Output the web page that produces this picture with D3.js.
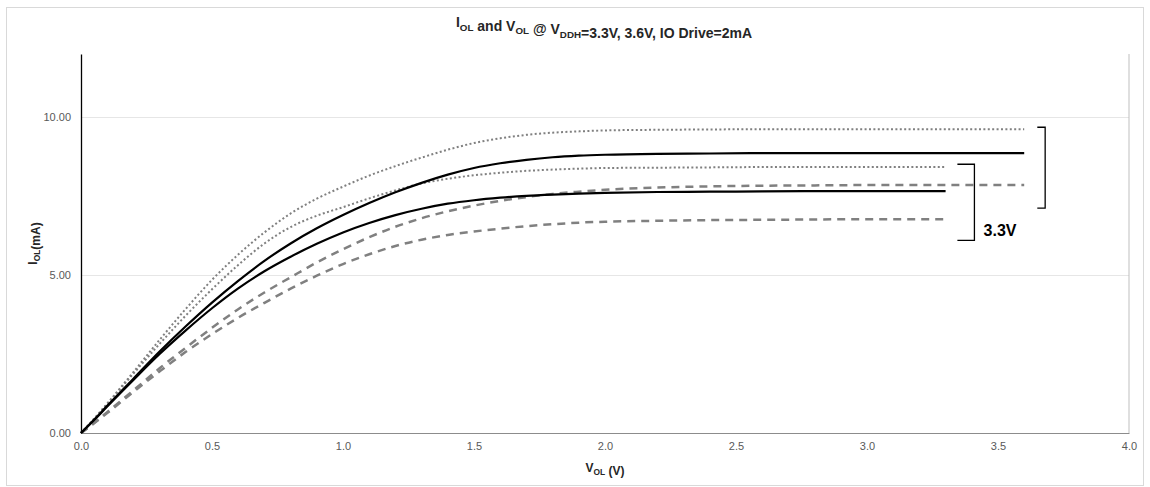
<!DOCTYPE html>
<html lang="en">
<head>
<meta charset="UTF-8">
<title>IOL and VOL</title>
<script src="https://cdn.jsdelivr.net/npm/d3@7"></script>
<style>
    body { margin: 0; background: #fff; }
    svg { font-family: "Liberation Sans", Arial, sans-serif; }
</style>
</head>
<body>
<svg id="chart" width="1150" height="487"></svg>
<script>
    // voltage grid (V) shared by the curves
    const vol = [0, 0.05, 0.1, 0.2, 0.3, 0.4, 0.5, 0.6, 0.7, 0.8, 0.9, 1.0, 1.1, 1.2, 1.3, 1.4, 1.5,
                 1.6, 1.7, 1.8, 1.9, 2.0, 2.2, 2.4, 2.6, 2.8, 3.0, 3.3, 3.6];
    // current (mA) for each curve
    const dotHigh  = [0, 0.45, 0.93, 1.93, 2.95, 3.93, 4.85, 5.65, 6.35, 6.95, 7.42, 7.8, 8.15, 8.45, 8.72, 8.97, 9.18,
                      9.33, 9.44, 9.51, 9.55, 9.58, 9.6, 9.61, 9.62, 9.62, 9.62, 9.62, 9.62];
    const dotLow   = [0, 0.45, 0.92, 1.88, 2.82, 3.72, 4.55, 5.32, 6.0, 6.52, 6.88, 7.15, 7.43, 7.68, 7.9, 8.05, 8.16,
                      8.24, 8.3, 8.34, 8.37, 8.39, 8.4, 8.41, 8.42, 8.42, 8.42, 8.42];
    const solHigh  = [0, 0.42, 0.86, 1.72, 2.58, 3.38, 4.13, 4.82, 5.45, 6.0, 6.48, 6.9, 7.28, 7.62, 7.92, 8.18, 8.39,
                      8.54, 8.65, 8.73, 8.78, 8.81, 8.84, 8.85, 8.86, 8.86, 8.86, 8.86, 8.86];
    const solLow   = [0, 0.41, 0.84, 1.68, 2.5, 3.25, 3.95, 4.58, 5.12, 5.58, 5.99, 6.35, 6.65, 6.9, 7.1, 7.26, 7.37,
                      7.45, 7.51, 7.55, 7.58, 7.6, 7.63, 7.64, 7.65, 7.66, 7.66, 7.66];
    const dashHigh = [0, 0.32, 0.66, 1.35, 2.05, 2.7, 3.33, 3.92, 4.45, 4.93, 5.4, 5.82, 6.2, 6.53, 6.8, 7.02, 7.2,
                      7.35, 7.47, 7.57, 7.64, 7.7, 7.77, 7.81, 7.83, 7.84, 7.85, 7.85, 7.85];
    const dashLow  = [0, 0.31, 0.63, 1.3, 1.95, 2.57, 3.13, 3.65, 4.12, 4.57, 4.98, 5.35, 5.66, 5.92, 6.12, 6.27, 6.38,
                      6.47, 6.55, 6.61, 6.66, 6.69, 6.72, 6.74, 6.75, 6.76, 6.77, 6.77];

    const xTicks = [0, 0.5, 1, 1.5, 2, 2.5, 3, 3.5, 4];
    const yTicks = [0, 5, 10];

    // brackets: [V of spine, V of tick ends, I top, I bottom]
    const bracket36 = [3.68, 3.65, 9.68, 7.12];
    const bracket33 = [3.41, 3.345, 8.51, 6.1];
    const bracketLabel = {v: 3.445, i: 6.25, text: "3.3V"};

    const series = [
        {y: dotHigh,  cls: "dot"},
        {y: dotLow,   cls: "dot"},
        {y: dashHigh, cls: "dash"},
        {y: dashLow,  cls: "dash"},
        {y: solHigh,  cls: "solid"},
        {y: solLow,   cls: "solid"}
    ];

    const svg = d3.select("#chart");
    const margin = {left: 81, right: 21, top: 54, bottom: 54};
    const W = 1150, H = 487;

    const x = d3.scaleLinear().domain([0, 4]).range([margin.left, W - margin.right]);
    const y = d3.scaleLinear().domain([0, 12]).range([H - margin.bottom, margin.top]);

    // chart border
    svg.append("rect").attr("x", 6.5).attr("y", 7.5).attr("width", 1137).attr("height", 478)
        .attr("fill", "none").attr("stroke", "#d9d9d9");

    // gridlines
    svg.append("g").selectAll("line").data(yTicks.filter(d => d > 0)).join("line")
        .attr("x1", x(0)).attr("x2", x(4))
        .attr("y1", d => Math.round(y(d)) + 0.5).attr("y2", d => Math.round(y(d)) + 0.5)
        .attr("stroke", "#e6e6e6");

    // axes
    const xAxis = svg.append("g").attr("transform", `translate(0,${y(0)})`)
        .call(d3.axisBottom(x).tickValues(xTicks).tickFormat(d3.format(".1f")).tickSize(0).tickPadding(9));
    xAxis.select(".domain").attr("stroke", "#8c8c8c");
    const yAxis = svg.append("g").attr("transform", `translate(${x(0)},0)`)
        .call(d3.axisLeft(y).tickValues(yTicks).tickFormat(d3.format(".2f")).tickSize(0).tickPadding(10));
    yAxis.select(".domain").attr("stroke", "#000").attr("stroke-width", 1.3);
    svg.selectAll(".tick text").attr("font-size", 11).attr("fill", "#595959")
        .attr("font-family", "'Liberation Sans', Arial, sans-serif");
    // right edge line
    svg.append("line").attr("x1", x(4)).attr("x2", x(4)).attr("y1", y(0)).attr("y2", y(12))
        .attr("stroke", "#bfbfbf");

    // curves
    const line = d3.line()
        .x((d, i) => x(vol[i]))
        .y(d => y(d))
        .curve(d3.curveMonotoneX);
    const styles = {
        dot:   {stroke: "#808080", width: 2, dash: "2,2.4"},
        dash:  {stroke: "#808080", width: 2.5, dash: "8,6"},
        solid: {stroke: "#000", width: 2.2, dash: null}
    };
    svg.append("g").selectAll("path").data(series).join("path")
        .attr("d", d => line(d.y))
        .attr("fill", "none")
        .attr("stroke", d => styles[d.cls].stroke)
        .attr("stroke-width", d => styles[d.cls].width)
        .attr("stroke-dasharray", d => styles[d.cls].dash);

    // brackets
    function bracket(b) {
        const p = d3.path();
        p.moveTo(x(b[1]), y(b[2]));
        p.lineTo(x(b[0]), y(b[2]));
        p.lineTo(x(b[0]), y(b[3]));
        p.lineTo(x(b[1]), y(b[3]));
        svg.append("path").attr("d", p.toString()).attr("fill", "none")
            .attr("stroke", "#000").attr("stroke-width", 1.3);
    }
    bracket(bracket36);
    bracket(bracket33);
    svg.append("text").attr("x", x(bracketLabel.v)).attr("y", y(bracketLabel.i))
        .attr("font-size", 16).attr("font-weight", "bold").text(bracketLabel.text);

    // text with subscripts
    function richText(sel, parts, size) {
        parts.forEach(p => {
            if (p.sub) {
                sel.append("tspan").attr("font-size", size * 0.7).attr("dy", size * 0.25).text(p.sub);
                sel.append("tspan").attr("font-size", size).attr("dy", -size * 0.25).text("");
            } else {
                sel.append("tspan").attr("font-size", size).text(p.t);
            }
        });
    }

    const title = svg.append("text").attr("x", 604).attr("y", 27).attr("text-anchor", "middle")
        .attr("font-weight", "bold").attr("fill", "#262626");
    richText(title, [{t: "I"}, {sub: "OL"}, {t: " and V"}, {sub: "OL"}, {t: " @ V"}, {sub: "DDH"},
        {t: "=3.3V, 3.6V, IO Drive=2mA"}], 14);

    const xTitle = svg.append("text").attr("x", (x(0) + x(4)) / 2).attr("y", 472).attr("text-anchor", "middle")
        .attr("font-weight", "bold").attr("fill", "#262626");
    richText(xTitle, [{t: "V"}, {sub: "OL"}, {t: " (V)"}], 12);

    const yTitle = svg.append("text")
        .attr("transform", `translate(37,${(y(0) + y(12)) / 2}) rotate(-90)`)
        .attr("text-anchor", "middle").attr("font-weight", "bold").attr("fill", "#262626");
    richText(yTitle, [{t: "I"}, {sub: "OL"}, {t: "(mA)"}], 12);
</script>
</body>
</html>
